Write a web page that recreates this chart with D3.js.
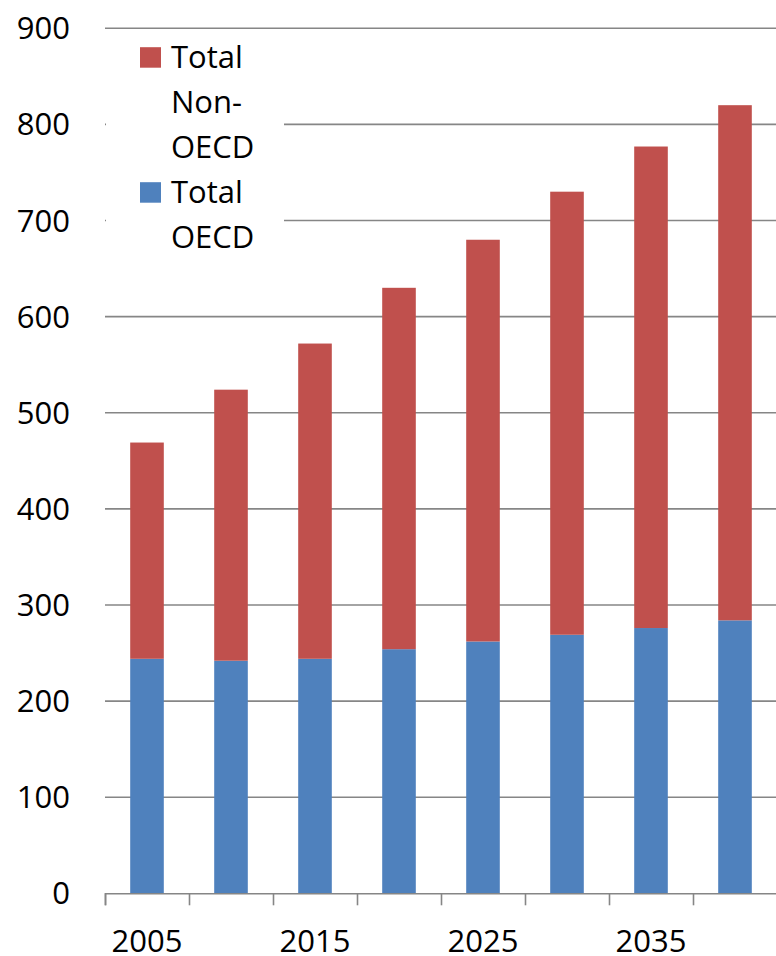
<!DOCTYPE html>
<html>
<head>
<meta charset="utf-8">
<script src="https://cdn.jsdelivr.net/npm/d3@7"></script>
<style>
  body { margin: 0; background: #fff; }
  text { font-family: "Open Sans", sans-serif; fill: #000; }
</style>
</head>
<body>
<svg id="chart" width="776" height="956"></svg>
<script>
// data
const years = ["2005", "2010", "2015", "2020", "2025", "2030", "2035", "2040"];
const oecd = [244, 242, 244, 254, 262, 269, 276, 284];
const nonOecd = [225, 282, 328, 376, 418, 461, 501, 536];
const yTicks = [0, 100, 200, 300, 400, 500, 600, 700, 800, 900];
const shownYears = ["2005", "2015", "2025", "2035"];

const seriesNames = ["Total OECD", "Total Non-OECD"];
const colors = ["#4F81BD", "#C0504D"];

const svg = d3.select("#chart");
const plotLeft = 105, plotRight = 777, plotTop = 28.3, plotBottom = 893.3;

// stacked table
let table = years.map((y, i) => ({ year: y, oecd: oecd[i], nonOecd: nonOecd[i] }));
let stack = d3.stack().keys(["oecd", "nonOecd"])(table);

let x = d3.scaleBand()
    .domain(years)
    .range([plotLeft, plotRight])
    .paddingInner(0.6)
    .paddingOuter(0.3);

let y = d3.scaleLinear()
    .domain([0, 900])
    .range([plotBottom, plotTop]);

// gridlines
svg.append("g")
    .selectAll("line")
    .data(yTicks.filter(d => d > 0))
    .enter().append("line")
    .attr("x1", plotLeft)
    .attr("x2", plotRight)
    .attr("y1", d => y(d))
    .attr("y2", d => y(d))
    .attr("stroke", "#868686")
    .attr("stroke-width", 1.6);

// y labels
svg.append("g")
    .selectAll("text")
    .data(yTicks)
    .enter().append("text")
    .attr("x", 70)
    .attr("y", d => y(d) + 11)
    .attr("text-anchor", "end")
    .style("font-size", "31px")
    .text(d => d);

// bars
svg.append("g")
    .selectAll("g")
    .data(stack)
    .enter().append("g")
    .attr("fill", (d, i) => colors[i])
    .selectAll("rect")
    .data(d => d)
    .enter().append("rect")
    .attr("x", d => x(d.data.year))
    .attr("width", x.bandwidth())
    .attr("y", d => y(d[1]))
    .attr("height", d => y(d[0]) - y(d[1]));

// x axis with ticks on category boundaries
let xEdge = d3.scaleLinear().domain([0, years.length]).range([plotLeft, plotRight]);
let xAxis = svg.append("g")
    .attr("transform", `translate(0,${plotBottom})`)
    .call(d3.axisBottom(xEdge)
        .tickValues(d3.range(years.length + 1))
        .tickSize(12)
        .tickFormat(""));
xAxis.select(".domain").attr("stroke", "#868686").attr("stroke-width", 1.6);
xAxis.selectAll(".tick line").attr("stroke", "#868686").attr("stroke-width", 1.6);

svg.append("g")
    .selectAll("text")
    .data(shownYears)
    .enter().append("text")
    .attr("x", d => x(d) + x.bandwidth() / 2)
    .attr("y", 952)
    .attr("text-anchor", "middle")
    .style("font-size", "31px")
    .text(d => d);

// legend (white box covers gridlines)
let legend = svg.append("g");
legend.append("rect")
    .attr("x", 106).attr("y", 33)
    .attr("width", 178).attr("height", 232)
    .attr("fill", "#fff");

let legendItems = [
    { color: colors[1], lines: ["Total", "Non-", "OECD"], y: 67.7 },
    { color: colors[0], lines: ["Total", "OECD"], y: 202.7 }
];
legendItems.forEach(item => {
    legend.append("rect")
        .attr("x", 140).attr("y", item.y - 20.5)
        .attr("width", 21).attr("height", 20.5)
        .attr("fill", item.color);
    item.lines.forEach((t, j) => {
        legend.append("text")
            .attr("x", 171)
            .attr("y", item.y + j * 45.3)
            .style("font-size", "31px")
            .text(t);
    });
});
</script>
</body>
</html>
